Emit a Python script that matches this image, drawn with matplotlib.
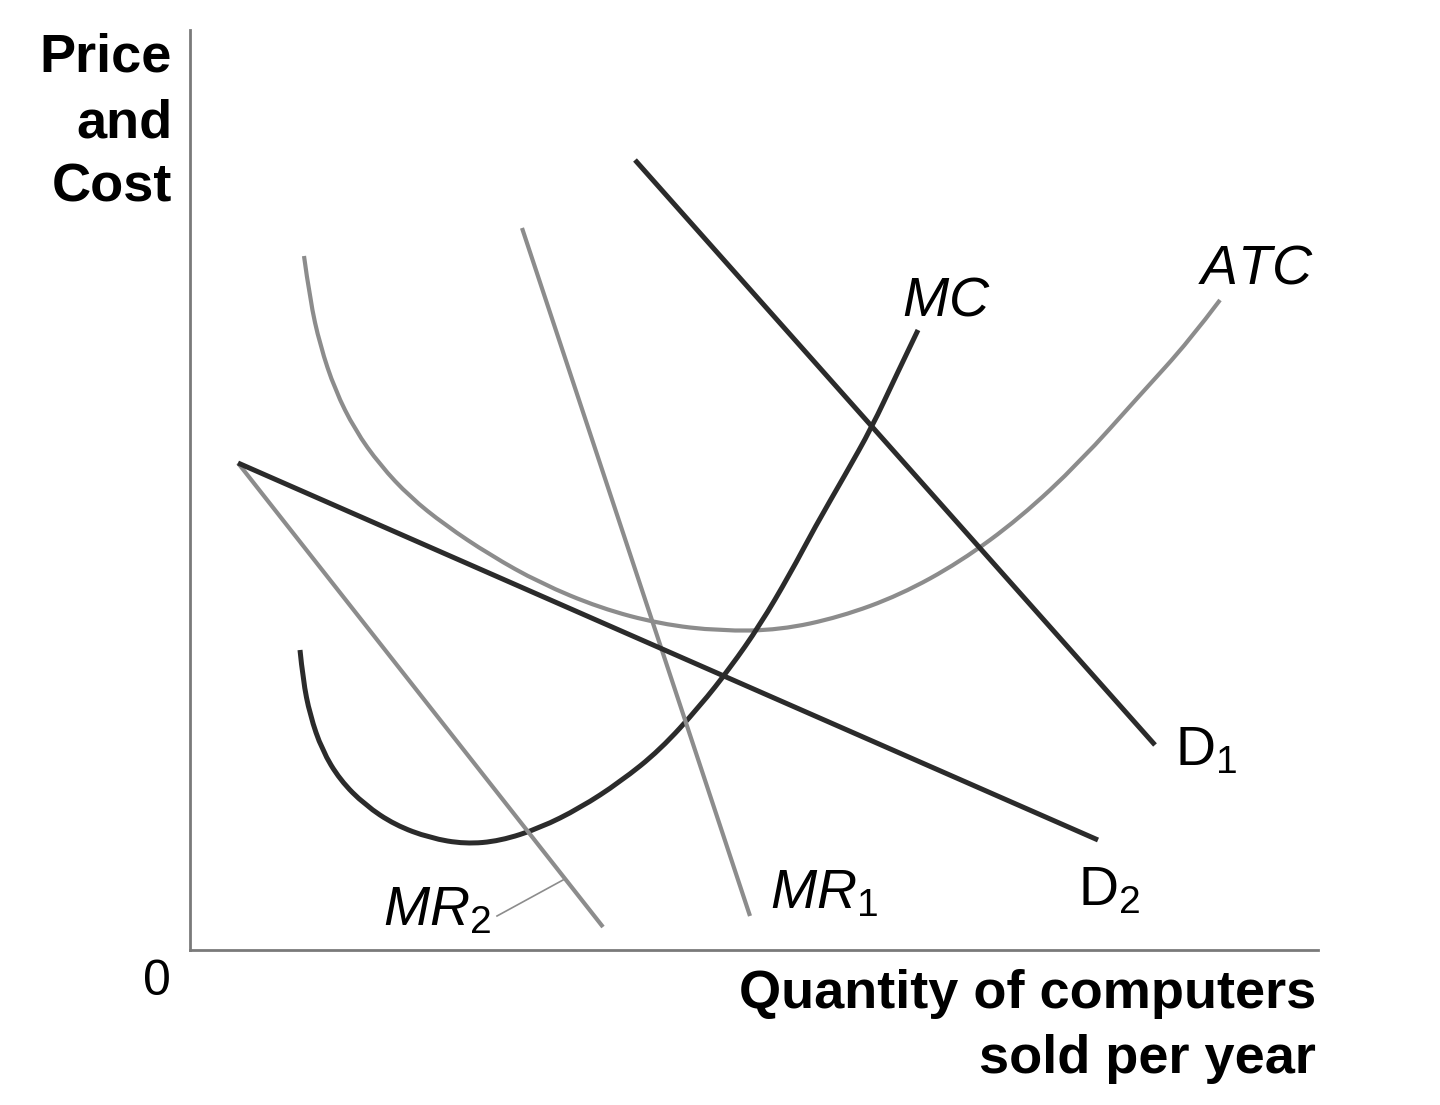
import matplotlib
matplotlib.use("Agg")
import matplotlib.pyplot as plt
from matplotlib.path import Path
from matplotlib.patches import PathPatch

plt.rcParams['font.family'] = ['Liberation Sans', 'DejaVu Sans']
plt.rcParams['mathtext.fontset'] = 'custom'
plt.rcParams['mathtext.rm'] = 'Liberation Sans'
plt.rcParams['mathtext.it'] = 'Liberation Sans:italic'

# curve values (quantity, price/cost)
d1_q = [445, 965]
d1_p = [790, 205]
d2_q = [48, 908]
d2_p = [487, 110]
mr1_q = [332, 560]
mr1_p = [722, 34]
mr2_q = [48, 413]
mr2_p = [487, 23]

atc_q = [114, 120, 130, 145, 165, 190, 220, 255, 300, 350, 410, 470, 530, 590,
         650, 710, 770, 830, 890, 950, 1000, 1030]
atc_p = [694, 650, 605, 560, 520, 485, 453, 425, 395, 367, 342, 326, 319, 320,
         333, 355, 388, 432, 488, 555, 610, 650]

mc_q = [110, 113, 120, 132, 150, 175, 205, 240, 275, 310, 350, 390, 430, 470,
        510, 540, 570, 600, 625, 655, 682, 705, 728]
mc_p = [300, 270, 235, 200, 170, 145, 125, 112, 106, 109, 122, 142, 168, 200,
        244, 282, 325, 376, 423, 475, 523, 572, 620]

dark = '#2b2b2b'
grey = '#8c8c8c'


def smooth_curve(ax, xs, ys, color, lw):
    # quadratic bezier through midpoints, read points act as control points
    verts = [(xs[0], ys[0])]
    codes = [Path.MOVETO]
    for i in range(1, len(xs) - 1):
        verts.append((xs[i], ys[i]))
        if i < len(xs) - 2:
            verts.append(((xs[i] + xs[i + 1]) / 2, (ys[i] + ys[i + 1]) / 2))
        else:
            verts.append((xs[-1], ys[-1]))
        codes += [Path.CURVE3, Path.CURVE3]
    ax.add_patch(PathPatch(Path(verts, codes), facecolor='none', edgecolor=color,
                           lw=lw, capstyle='butt'))


fig = plt.figure(figsize=(14.4, 11.05), dpi=100)
ax = fig.add_axes([190/1440, 1 - 950/1105, 1128/1440, 920/1105])
ax.set_xlim(0, 1128)
ax.set_ylim(0, 920)

smooth_curve(ax, atc_q, atc_p, grey, 3.0)
ax.plot(mr2_q, mr2_p, color=grey, lw=3.0, solid_capstyle='butt')
ax.plot(mr1_q, mr1_p, color=grey, lw=3.0, solid_capstyle='butt')
smooth_curve(ax, mc_q, mc_p, dark, 3.6)
ax.plot(d2_q, d2_p, color=dark, lw=3.6, solid_capstyle='butt')
ax.plot(d1_q, d1_p, color=dark, lw=3.6, solid_capstyle='butt')

# leader for MR2 label
ax.plot([307, 373], [34, 70], color=grey, lw=1.2)

for s in ['top', 'right']:
    ax.spines[s].set_visible(False)
for s in ['left', 'bottom']:
    ax.spines[s].set_color('#7a7a7a')
    ax.spines[s].set_linewidth(2)
ax.set_xticks([])
ax.set_yticks([])

fs = 40
ax.text(712, 634, r'$\mathit{MC}$', fontsize=fs, ha='left', va='baseline')
ax.text(1008, 666, r'$\mathit{ATC}$', fontsize=fs, ha='left', va='baseline')
ax.text(985, 185, r'$\mathrm{D}_1$', fontsize=fs, ha='left', va='baseline')
ax.text(888, 45, r'$\mathrm{D}_2$', fontsize=fs, ha='left', va='baseline')
ax.text(580, 42, r'$\mathit{MR}_1$', fontsize=fs, ha='left', va='baseline')
ax.text(193, 25, r'$\mathit{MR}_2$', fontsize=fs, ha='left', va='baseline')

for line, base in zip(['Price', 'and', 'Cost'], [72, 137, 202]):
    fig.text(172/1440, 1 - base/1105, line, fontsize=39, fontweight='bold',
             ha='right', va='baseline')
fig.text(157/1440, 1 - 995/1105, '0', fontsize=36, ha='center', va='baseline')
for line, base in zip(['Quantity of computers', 'sold per year'], [1008, 1073]):
    fig.text(1316/1440, 1 - base/1105, line, fontsize=39, fontweight='bold',
             ha='right', va='baseline')

fig.savefig('out.png', dpi=100, facecolor='white')
